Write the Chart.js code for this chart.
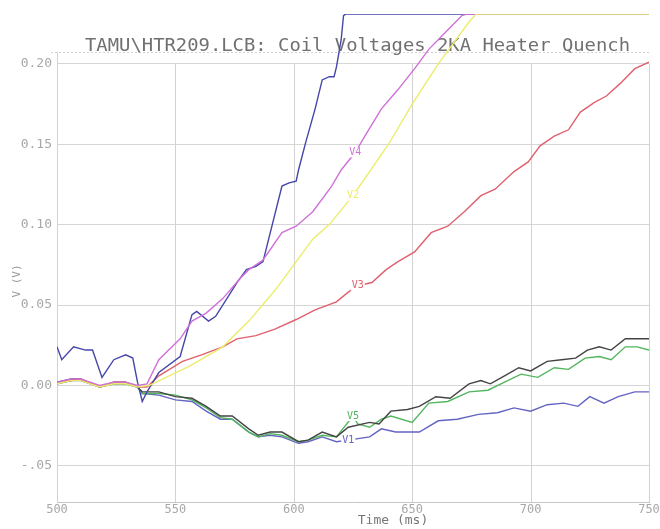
<!DOCTYPE html>
<html>
<head>
<meta charset="utf-8">
<title>TAMU\HTR209.LCB Coil Voltages</title>
<script src="https://cdn.jsdelivr.net/npm/chart.js@4/dist/chart.umd.min.js"></script>
<style>
  html, body { margin: 0; padding: 0; background: #ffffff; }
  canvas { display: block; }
</style>
</head>
<body>
<canvas id="chart" width="660" height="529"></canvas>
<script>
// Coil voltage traces during a 2 kA heater-induced quench, time in ms, voltage in V.
const timeTicks = [500, 550, 600, 650, 700, 750];
const timeTickLabels = ['500', '550', '600', '650', '700', '750'];
const voltTicks = [-0.05, 0.00, 0.05, 0.10, 0.15, 0.20];
const voltTickLabels = ['-.05', '0.00', '0.05', '0.10', '0.15', '0.20'];
const voltMin = -0.0725;
const voltMax = 0.231;      // recorder full scale; traces saturate here
const frameTop = 0.2075;

const titleText = 'TAMU\\HTR209.LCB: Coil Voltages 2KA Heater Quench';
const xTitle = 'Time (ms)';
const yTitle = 'V (V)';

// [time, volts] samples per channel
const v6 = [[500,0.024],[502,0.016],[507,0.024],[512,0.022],[515,0.022],[519,0.005],[524,0.016],[529,0.019],
  [532,0.017],[534,0.002],[536,-0.010],[538,-0.004],[543,0.008],[552,0.018],[557,0.044],[559,0.046],[564,0.040],
  [567,0.043],[576,0.064],[580,0.072],[584,0.074],[587,0.077],[595,0.124],[598,0.126],[601,0.127],[602,0.134],
  [605,0.151],[609,0.172],[612,0.190],[615,0.192],[617,0.192],[618,0.198],[620,0.215],[621,0.230],[622,0.231],[750,0.231]];

const v4 = [[500,0.002],[506,0.004],[510,0.004],[518,0.000],[524,0.002],[529,0.002],[534,0.000],[538,0.001],
  [543,0.016],[552,0.029],[557,0.040],[563,0.045],[570,0.054],[577,0.066],[581,0.072],[587,0.078],[595,0.095],
  [601,0.099],[608,0.108],[616,0.124],[620,0.134],[626,0.145],[630,0.155],[637,0.172],[644,0.184],[651,0.197],
  [657,0.209],[665,0.221],[671,0.230],[673,0.231],[750,0.231]];

const v2 = [[500,0.001],[506,0.003],[510,0.003],[518,-0.001],[524,0.001],[529,0.001],[534,-0.001],[539,0.000],
  [556,0.012],[570,0.024],[581,0.040],[592,0.059],[601,0.077],[608,0.091],[615,0.100],[625,0.118],[632,0.133],
  [640,0.150],[650,0.175],[661,0.200],[669,0.216],[674,0.226],[677,0.231],[750,0.231]];

const v3 = [[500,0.002],[506,0.003],[510,0.004],[518,-0.001],[524,0.002],[529,0.002],[534,-0.001],[538,-0.001],
  [543,0.006],[553,0.015],[561,0.019],[570,0.024],[576,0.029],[584,0.031],[592,0.035],[601,0.041],[609,0.047],
  [618,0.052],[623,0.058],[627,0.062],[633,0.064],[639,0.072],[644,0.077],[651,0.083],[658,0.095],[665,0.099],
  [672,0.108],[679,0.118],[685,0.122],[693,0.133],[699,0.139],[704,0.149],[710,0.155],[716,0.159],[721,0.170],
  [727,0.176],[732,0.180],[738,0.188],[744,0.197],[750,0.201]];

const v7 = [[500,0.002],[506,0.004],[510,0.004],[518,-0.001],[524,0.002],[529,0.002],[534,-0.001],[536,-0.004],
  [543,-0.004],[550,-0.007],[557,-0.008],[563,-0.013],[569,-0.019],[574,-0.019],[581,-0.027],[585,-0.031],
  [590,-0.029],[595,-0.029],[602,-0.035],[606,-0.034],[612,-0.029],[618,-0.032],[623,-0.026],[632,-0.023],
  [636,-0.024],[641,-0.016],[648,-0.015],[653,-0.013],[660,-0.007],[666,-0.008],[674,0.001],[679,0.003],
  [683,0.001],[689,0.006],[695,0.011],[700,0.009],[707,0.015],[713,0.016],[719,0.017],[724,0.022],[729,0.024],
  [734,0.022],[740,0.029],[745,0.029],[750,0.029]];

const v5 = [[500,0.001],[506,0.003],[510,0.004],[518,-0.001],[524,0.001],[529,0.001],[534,-0.001],[536,-0.005],
  [543,-0.005],[550,-0.006],[557,-0.009],[563,-0.014],[569,-0.020],[574,-0.021],[581,-0.029],[585,-0.032],
  [590,-0.030],[595,-0.031],[602,-0.035],[606,-0.034],[612,-0.031],[618,-0.032],[625,-0.019],[627,-0.024],
  [632,-0.026],[637,-0.021],[641,-0.019],[650,-0.023],[657,-0.011],[665,-0.010],[674,-0.004],[682,-0.003],
  [689,0.002],[696,0.007],[703,0.005],[710,0.011],[716,0.010],[723,0.017],[729,0.018],[734,0.016],[740,0.024],
  [745,0.024],[750,0.022]];

const v1 = [[500,0.001],[506,0.003],[510,0.003],[518,-0.001],[524,0.001],[529,0.001],[534,-0.001],[536,-0.005],
  [543,-0.006],[550,-0.009],[557,-0.010],[563,-0.016],[569,-0.021],[574,-0.021],[581,-0.029],[585,-0.032],
  [590,-0.031],[595,-0.032],[602,-0.036],[606,-0.035],[612,-0.032],[618,-0.035],[623,-0.034],[632,-0.032],
  [637,-0.027],[643,-0.029],[653,-0.029],[661,-0.022],[669,-0.021],[678,-0.018],[686,-0.017],[693,-0.014],
  [700,-0.016],[707,-0.012],[714,-0.011],[720,-0.013],[725,-0.007],[731,-0.011],[737,-0.007],[744,-0.004],[750,-0.004]];

// Dataset 0 is painted last (on top).
const channels = [
  { name: 'V2', data: v2, color: '#ecec6c', labelAt: 626 },
  { name: 'V4', data: v4, color: '#d070d8', labelAt: 626 },
  { name: 'V6', data: v6, color: '#4646aa', labelAt: null },
  { name: 'V3', data: v3, color: '#e0606e', labelAt: 627 },
  { name: 'V7', data: v7, color: '#444444', labelAt: null },
  { name: 'V5', data: v5, color: '#52b65e', labelAt: 625 },
  { name: 'V1', data: v1, color: '#6464c4', labelAt: 623 }
];

const monoFont = '"DejaVu Sans Mono", "Liberation Mono", monospace';

const decor = {
  id: 'decor',
  beforeDatasetsDraw(chart) {
    const { ctx, chartArea: a, scales: { x, y } } = chart;
    ctx.save();
    ctx.strokeStyle = '#d2d2d2';
    ctx.lineWidth = 1;
    // vertical grid lines, drawn from the 0.20 level down
    const gridTop = y.getPixelForValue(voltTicks[voltTicks.length - 1]);
    timeTicks.forEach((t, i) => {
      const px = Math.round(x.getPixelForValue(t)) + 0.5;
      const top = i === 0 ? y.getPixelForValue(frameTop) : gridTop;
      ctx.beginPath();
      ctx.moveTo(px, top);
      ctx.lineTo(px, a.bottom);
      ctx.stroke();
    });
    // dotted frame line under the title
    ctx.setLineDash([2, 2]);
    const fy = Math.round(y.getPixelForValue(frameTop)) + 0.5;
    ctx.beginPath();
    ctx.moveTo(a.left - 6, fy);
    ctx.lineTo(a.right, fy);
    ctx.stroke();
    ctx.setLineDash([]);
    // title, stretched across the plot like a plotter stroke font
    ctx.font = '17px ' + monoFont;
    ctx.fillStyle = '#707070';
    ctx.textBaseline = 'middle';
    ctx.textAlign = 'left';
    const w = ctx.measureText(titleText).width;
    const span = 545;
    ctx.translate(85, 47);
    ctx.scale(span / w, 1);
    ctx.fillText(titleText, 0, 0);
    ctx.restore();
  },
  afterDatasetsDraw(chart) {
    const { ctx, scales: { x, y } } = chart;
    ctx.save();
    ctx.font = '10px ' + monoFont;
    ctx.textAlign = 'center';
    ctx.textBaseline = 'middle';
    channels.forEach(ch => {
      if (ch.labelAt === null) return;
      let best = ch.data[0];
      ch.data.forEach(p => { if (Math.abs(p[0] - ch.labelAt) < Math.abs(best[0] - ch.labelAt)) best = p; });
      const px = x.getPixelForValue(best[0]);
      const py = y.getPixelForValue(best[1]);
      const tw = ctx.measureText(ch.name).width;
      ctx.fillStyle = '#ffffff';
      ctx.fillRect(px - tw / 2 - 1, py - 5, tw + 2, 10);
      ctx.fillStyle = ch.color;
      ctx.fillText(ch.name, px, py);
    });
    ctx.restore();
  },
  afterDraw(chart) {
    const { ctx } = chart;
    ctx.save();
    ctx.fillStyle = '#777777';
    ctx.textAlign = 'center';
    ctx.textBaseline = 'middle';
    ctx.font = '13px ' + monoFont;
    ctx.fillText(xTitle, 393, 521);
    ctx.translate(17, 281);
    ctx.rotate(-Math.PI / 2);
    ctx.font = '11px ' + monoFont;
    ctx.fillStyle = '#999999';
    ctx.fillText(yTitle, 0, 0);
    ctx.restore();
  }
};

new Chart(document.getElementById('chart'), {
  type: 'line',
  data: {
    datasets: channels.map(ch => ({
      label: ch.name,
      data: ch.data.map(p => ({ x: p[0], y: p[1] })),
      borderColor: ch.color,
      backgroundColor: ch.color,
      borderWidth: 1.4,
      pointRadius: 0,
      tension: 0,
      fill: false
    }))
  },
  options: {
    responsive: false,
    devicePixelRatio: 1,
    animation: false,
    events: [],
    layout: { padding: { top: 14, right: 11, left: 0, bottom: 0 } },
    plugins: { legend: { display: false }, title: { display: false }, tooltip: { enabled: false } },
    scales: {
      x: {
        type: 'linear',
        min: timeTicks[0],
        max: timeTicks[timeTicks.length - 1],
        afterBuildTicks(scale) { scale.ticks = timeTicks.map(v => ({ value: v })); },
        afterFit(scale) { scale.height = 27; scale.paddingLeft = 0; scale.paddingRight = 0; },
        grid: { display: false, drawTicks: false },
        border: { display: true, color: '#c6c6c6', width: 1 },
        ticks: {
          autoSkip: false,
          maxRotation: 0,
          padding: 1,
          color: '#a8a8a8',
          font: { family: monoFont, size: 12 },
          callback: (value, index) => timeTickLabels[index]
        }
      },
      y: {
        type: 'linear',
        min: voltMin,
        max: voltMax,
        afterBuildTicks(scale) { scale.ticks = voltTicks.map(v => ({ value: v })); },
        afterFit(scale) { scale.width = 57; scale.paddingTop = 0; scale.paddingBottom = 0; },
        grid: { color: '#d6d6d6', lineWidth: 1, drawTicks: false },
        border: { display: false },
        ticks: {
          autoSkip: false,
          padding: 5,
          color: '#a8a8a8',
          font: { family: monoFont, size: 13 },
          callback: (value, index) => voltTickLabels[index]
        }
      }
    }
  },
  plugins: [decor]
});
</script>
</body>
</html>
